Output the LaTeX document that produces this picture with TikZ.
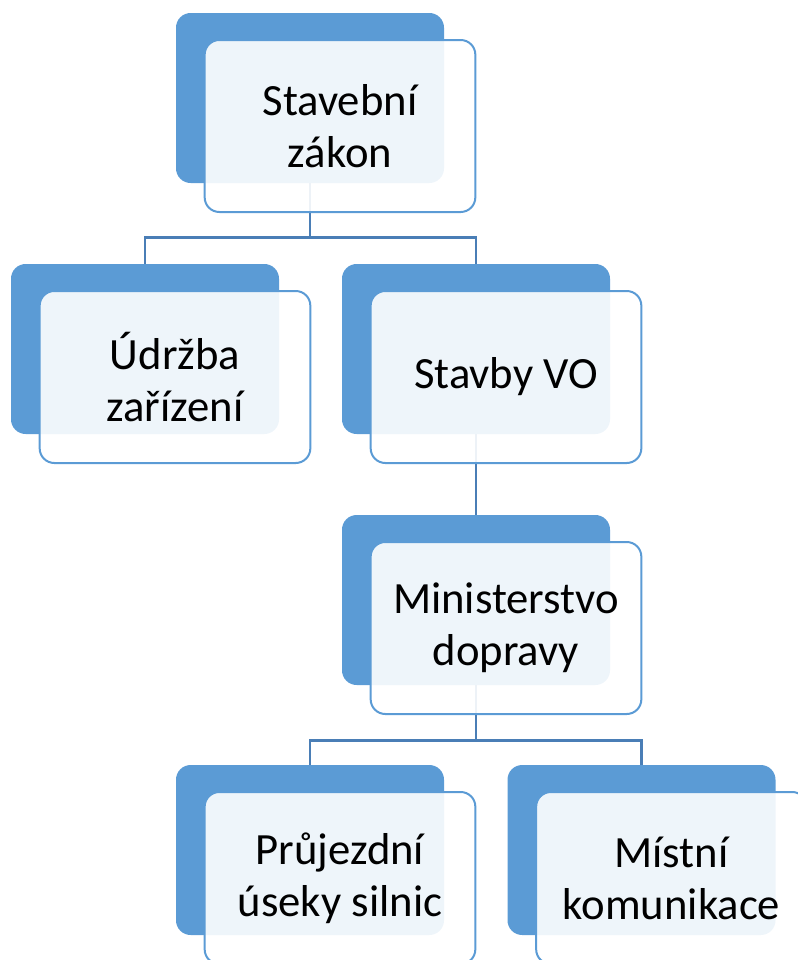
\documentclass[tikz,border=0pt]{standalone}
\usepackage{fontspec}
\setmainfont{Carlito}
\usetikzlibrary{positioning}
\definecolor{boxblue}{HTML}{5B9BD5}
\definecolor{lineblue}{HTML}{4A7EB6}
\tikzset{
	back/.style={fill=boxblue, rounded corners=11pt, minimum width=201pt, minimum height=127.5pt, inner sep=0pt},
	front/.style={draw=boxblue, line width=1.5pt, fill=white, fill opacity=0.9, text opacity=1, rounded corners=11pt, minimum width=203pt, minimum height=129pt, inner sep=0pt, align=center, font=\fontsize{33.5}{39}\selectfont},
	conn/.style={draw=lineblue, line width=2.2pt}
}
\begin{document}
\begin{tikzpicture}[x=0.75pt,y=-0.75pt]
					\useasboundingbox (0,0) rectangle (797,960);
					% back boxes
					\node[back] (szb) at (310,98) {};
					\node[back] (udb) at (145,349) {};
					\node[back] (svb) at (476,349) {};
					\node[back] (mdb) at (476,600) {};
					\node[back] (pub) at (310,850) {};
					\node[back] (mkb) at (641.5,850) {};
					% connectors
					\draw[conn] (szb.south) -- ++(0,54) -| (udb.north);
					\draw[conn] (szb.south) -- ++(0,54) -| (svb.north);
					\draw[conn] (svb.south) -- (mdb.north);
					\draw[conn] (mdb.south) -- ++(0,55) -| (pub.north);
					\draw[conn] (mdb.south) -- ++(0,55) -| (mkb.north);
					% front boxes
					\node[front] (sz) at ([shift={(30,28)}]szb) {Stavební\\zákon};
					\node[front] (ud) at ([shift={(30,28)}]udb) {Údržba\\zařízení};
					\node[front] (sv) at ([shift={(30,28)}]svb) {Stavby VO};
					\node[front] (md) at ([shift={(30,28)}]mdb) {Ministerstvo\\dopravy};
					\node[front] (pu) at ([shift={(30,28)}]pub) {Průjezdní\\úseky silnic};
					\node[front] (mk) at ([shift={(30,28)}]mkb) {Místní\\komunikace};
\end{tikzpicture}
\end{document}
